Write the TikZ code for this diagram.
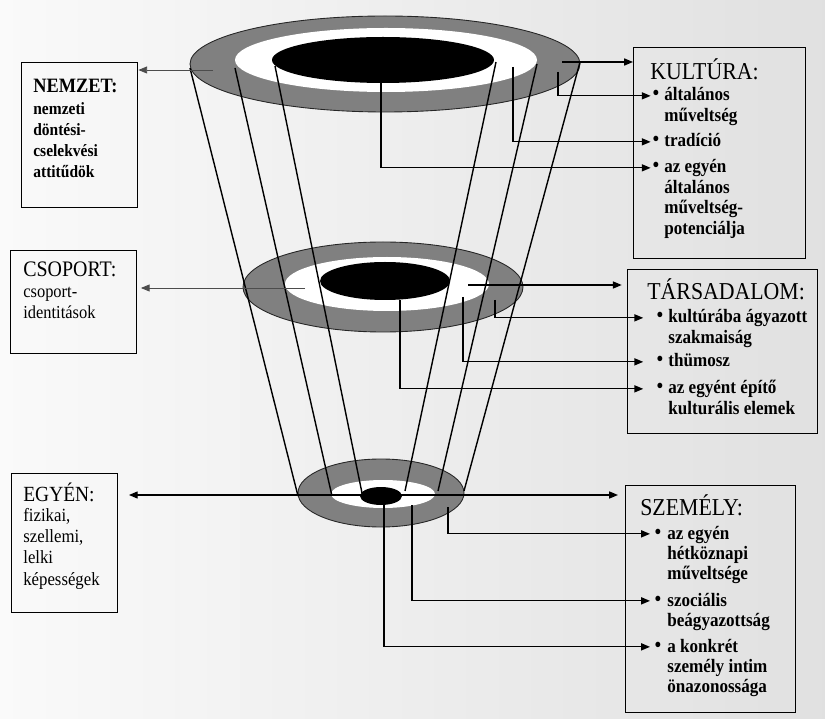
\documentclass[tikz,border=0pt]{standalone}
\usepackage{fontspec}
\setmainfont{Liberation Serif}[FakeStretch=0.9]
\usetikzlibrary{arrows.meta,positioning,calc}

\newcommand{\stacked}[1]{\begin{tabular}[t]{@{}l@{}}#1\end{tabular}}

\begin{document}
\begin{tikzpicture}[
    x=0.02cm, y=-0.02cm,
    box/.style={draw, line width=0.8pt, inner sep=0pt, anchor=north west},
    band/.style={fill=black!50, draw=black!85, line width=0.5pt},
    hole/.style={fill=white},
    core/.style={fill=black},
    cone/.style={line width=0.8pt},
    arr/.style={-{Triangle[length=5pt, width=4pt]}, line width=0.7pt},
    thinarr/.style={arr, line width=0.5pt, black!70},
    ttl/.style={anchor=base west, inner sep=0pt, font=\fontsize{13.8}{16}\selectfont},
    lttl/.style={anchor=base west, inner sep=0pt, font=\fontsize{12.3}{14}\selectfont},
    ltxt/.style={anchor=base west, inner sep=0pt},
    dot/.style={anchor=base, inner sep=0.3pt, font=\fontsize{13}{14}\selectfont},
    item/.style={anchor=base west, inner sep=0pt,
      font=\bfseries\fontsize{10.8}{11.6}\selectfont},
  ]
  \useasboundingbox (0,0) rectangle (825,719);
  \shade[left color=gray!4, right color=gray!24] (0,0) rectangle (825,719);

  % Rings
  \draw[band] (385,64) ellipse [x radius=195, y radius=48];
  \fill[hole] (386,60) ellipse [x radius=151, y radius=32];
  \fill[core] (383,60) ellipse [x radius=111, y radius=23];
  \draw[band] (383,287) ellipse [x radius=140, y radius=45];
  \fill[hole] (387,284) ellipse [x radius=102, y radius=27];
  \fill[core] (385,281) ellipse [x radius=65, y radius=19];
  \draw[band] (381,493) ellipse [x radius=83, y radius=34];
  \fill[hole] (383,494) ellipse [x radius=52, y radius=14];
  \fill[core] (381,496) ellipse [x radius=21, y radius=9];

  % Cone
  \foreach \xa/\ya/\xb/\yb in {190/68/298/496, 235/68/332/496, 275/66/362/493,
      496/62/405/491, 537/64/438/491, 580/62/464/491}
    \draw[cone] (\xa,\ya) -- (\xb,\yb);

  % Left boxes
  \node[box, minimum width=2.32cm, minimum height=2.90cm] (nemzet) at (21,62) {};
  \node[lttl, font=\bfseries\fontsize{11.6}{13}\selectfont] (nemzetT) at (33,93) {NEMZET:};
  \node[ltxt, font=\bfseries\fontsize{9.8}{11.8}\selectfont] (nemzetB) at (33,115)
    {\stacked{nemzeti\\döntési-\\cselekvési\\attitűdök}};
  \node[box, minimum width=2.52cm, minimum height=2.06cm] (csoport) at (10,250) {};
  \node[lttl, font=\fontsize{12.6}{14}\selectfont] (csoportT) at (23,277) {CSOPORT:};
  \node[ltxt, font=\fontsize{10.4}{11.9}\selectfont] (csoportB) at (23,298)
    {\stacked{csoport-\\identitások}};
  \node[box, minimum width=2.12cm, minimum height=2.78cm] (egyen) at (11,473) {};
  \node[lttl] (egyenT) at (23,501) {EGYÉN:};
  \node[ltxt, font=\fontsize{10.6}{12.2}\selectfont] (egyenB) at (23,521)
    {\stacked{fizikai,\\szellemi,\\lelki\\képességek}};

  % Right boxes
  \node[box, minimum width=3.44cm, minimum height=4.22cm] (kultura) at (633,47) {};
  \node[ttl] (kulturaT) at (650,80) {KULTÚRA:};
  \node[dot] (kb1) at (656,101) {\textbullet};
  \node[item] (ki1) at (664,101) {\stacked{általános\\műveltség}};
  \node[dot] (kb2) at (656,147) {\textbullet};
  \node[item] (ki2) at (664,147) {tradíció};
  \node[dot] (kb3) at (656,173) {\textbullet};
  \node[item] (ki3) at (664,173) {\stacked{az egyén\\általános\\műveltség-\\potenciálja}};

  \node[box, minimum width=3.80cm, minimum height=3.28cm] (tarsad) at (627,269) {};
  \node[ttl] (tarsadT) at (647,300) {TÁRSADALOM:};
  \node[dot] (tb1) at (660,323) {\textbullet};
  \node[item] (ti1) at (668,323) {\stacked{kultúrába ágyazott\\szakmaiság}};
  \node[dot] (tb2) at (660,367) {\textbullet};
  \node[item] (ti2) at (668,367) {thümosz};
  \node[dot] (tb3) at (660,394) {\textbullet};
  \node[item] (ti3) at (668,394) {\stacked{az egyént építő\\kulturális elemek}};

  \node[box, minimum width=3.40cm, minimum height=4.54cm] (szemely) at (625,485) {};
  \node[ttl] (szemelyT) at (640,515) {SZEMÉLY:};
  \node[dot] (sb1) at (658,539) {\textbullet};
  \node[item] (si1) at (667,539) {\stacked{az egyén\\hétköznapi\\műveltsége}};
  \node[dot] (sb2) at (658,606) {\textbullet};
  \node[item] (si2) at (667,606) {\stacked{szociális\\beágyazottság}};
  \node[dot] (sb3) at (658,652) {\textbullet};
  \node[item] (si3) at (667,652) {\stacked{a konkrét\\személy intim\\önazonossága}};

  % Arrows
  \coordinate (tl) at (213,70);
  \coordinate (tr) at (562,62);
  \coordinate (t1) at (558,72);
  \coordinate (t2) at (513,67);
  \coordinate (t3) at (381,83);
  \coordinate (ml) at (305,288);
  \coordinate (mr) at (468,285);
  \coordinate (m1) at (495,300);
  \coordinate (m2) at (463,297);
  \coordinate (m3) at (400,300);
  \coordinate (bc) at (381,495);
  \coordinate (b1) at (448,507);
  \coordinate (b2) at (412,505);
  \coordinate (b3) at (384,505);

  \draw[thinarr] (tl) -- (tl -| nemzet.east);
  \draw[arr] (tr) -- (tr -| kultura.west);
  \draw[arr, shorten >=0.5pt] (t1) |- (kb1);
  \draw[arr, shorten >=0.5pt] (t2) |- (kb2);
  \draw[arr, shorten >=0.5pt] (t3) |- (kb3);

  \draw[thinarr, shorten >=2pt] (ml) -- (ml -| csoport.east);
  \draw[arr, shorten >=3pt] (mr) -- (mr -| tarsad.west);
  \draw[arr, shorten >=7pt] (m1) |- (tb1);
  \draw[arr, shorten >=7pt] (m2) |- (tb2);
  \draw[arr, shorten >=7pt] (m3) |- (tb3);

  \draw[arr, shorten >=6pt] (bc) -- (bc -| egyen.east);
  \draw[arr, shorten >=4pt] (bc) -- (bc -| szemely.west);
  \draw[arr, shorten >=2pt] (b1) |- (sb1);
  \draw[arr, shorten >=2pt] (b2) |- (sb2);
  \draw[arr, shorten >=2pt] (b3) |- (sb3);
\end{tikzpicture}
\end{document}
